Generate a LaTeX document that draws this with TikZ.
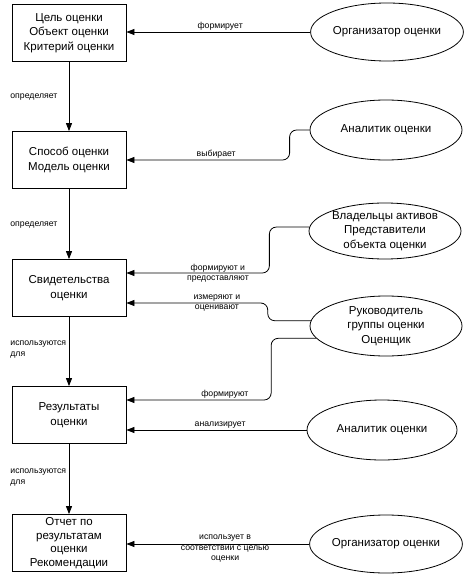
\documentclass[tikz,border=0pt]{standalone}
\usepackage{fontspec}
\setmainfont{Liberation Sans}
\usetikzlibrary{arrows.meta,shapes.geometric}
\begin{document}
\begin{tikzpicture}[x=1pt,y=-1pt,
  box/.style={draw,line width=0.8pt,minimum width=114pt,minimum height=57pt,inner sep=1pt,align=center,font=\fontsize{11.5}{14.5}\selectfont},
  actor/.style={draw,line width=0.8pt,ellipse,minimum width=152pt,minimum height=60pt,inner sep=0pt,align=center,font=\fontsize{11.5}{14.5}\selectfont},
  conn/.style={line width=0.8pt,-{Triangle[length=8pt,width=6pt]},rounded corners=7pt},
  lbl/.style={font=\fontsize{8.7}{10.5}\selectfont,inner sep=1.5pt,align=center},
  vlbl/.style={font=\fontsize{8.7}{10.5}\selectfont,inner sep=0pt,align=left,anchor=west,xshift=-59pt}]
\useasboundingbox (0,0) rectangle (474,580);
% boxes
\node[box] (b1) at (69,33) {Цель оценки\\Объект оценки\\Критерий оценки};
\node[box] (b2) at (69,160) {Способ оценки\\Модель оценки};
\node[box] (b3) at (69,288) {Свидетельства\\оценки};
\node[box] (b4) at (69,415) {Результаты\\оценки};
\node[box,font=\fontsize{11.5}{13.7}\selectfont] (b5) at (69,543) {Отчет по\\результатам\\оценки\\Рекомендации};
% actors
\node[actor,minimum height=58pt] (e1) at (387,32) {Организатор оценки};
\node[actor] (e2) at (386,130) {Аналитик оценки};
\node[actor,minimum height=56pt] (e3) at (385,231) {Владельцы активов\\Представители\\объекта оценки};
\node[actor] (e4) at (386,326) {Руководитель\\группы оценки\\Оценщик};
\node[actor,minimum width=150pt] (e5) at (382,430) {Аналитик оценки};
\node[actor,minimum height=58pt] (e6) at (386,544) {Организатор оценки};
% vertical flow
\draw[conn] (b1) -- node[vlbl,pos=.51] {определяет} (b2);
\draw[conn] (b2) -- node[vlbl,pos=.52] {определяет} (b3);
\draw[conn] (b3) -- node[vlbl,pos=.47] {используются\\для} (b4);
\draw[conn] (b4) -- node[vlbl,pos=.48] {используются\\для} (b5);
% actor connectors
\draw[conn] (e1.west) -- node[lbl,above,pos=.49] {формирует} (b1.east |- e1.west);
\draw[conn] (e2.west) -- ++(-20,0) |- node[lbl,above,pos=.725] {выбирает} (b2.east);
\draw[conn] (e3.177) -- ++(-40,0) |- node[lbl,pos=.68] {формируют и\\предоставляют} ([yshift=15pt]b3.east);
\draw[conn] (e4.176) -- ++(-43,0) |- node[lbl,pos=.68] {измеряют и\\оценивают} ([yshift=-15pt]b3.east);
\draw[conn] (e4.190) -- ++(-45,0) |- node[lbl,above,pos=.66] {формируют} ([yshift=15pt]b4.east);
\draw[conn] (e5.west) -- node[lbl,above,pos=.48] {анализирует} (b4.east |- e5.west);
\draw[conn] (e6.west) -- node[lbl,pos=.46,yshift=-5pt] {использует в\\соответствии с целью\\оценки} (b5.east |- e6.west);
\end{tikzpicture}
\end{document}
